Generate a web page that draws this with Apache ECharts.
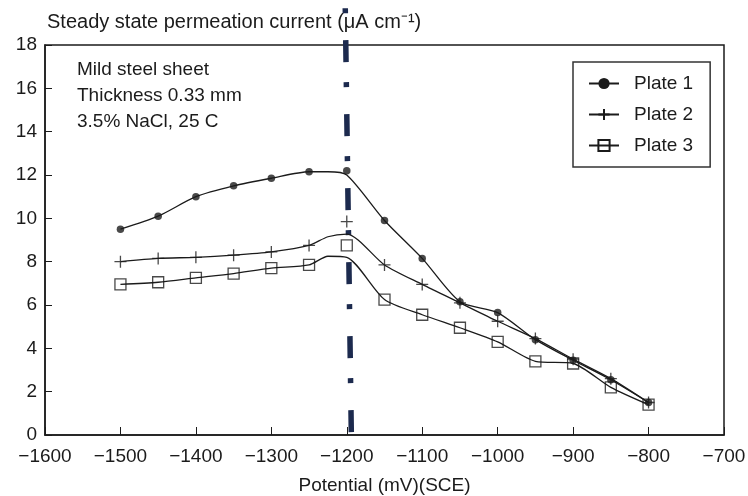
<!DOCTYPE html>
<html>
<head>
<meta charset="utf-8">
<script src="https://cdn.jsdelivr.net/npm/echarts@6/dist/echarts.min.js"></script>
<style>
  html, body { margin: 0; padding: 0; background: #fff; }
  #chart { width: 748px; height: 496px; }
</style>
</head>
<body>
<div id="chart"></div>
<script>
// potentials where the markers sit (mV vs SCE)
const potentials = [-1500, -1450, -1400, -1350, -1300, -1250, -1200, -1150, -1100, -1050, -1000, -950, -900, -850, -800]
const plate1 = [9.5, 10.1, 11.0, 11.5, 11.85, 12.15, 12.2, 9.9, 8.15, 6.15, 5.65, 4.4, 3.45, 2.55, 1.5]
const plate2 = [8.0, 8.15, 8.2, 8.3, 8.45, 8.75, 9.85, 7.85, 6.95, 6.1, 5.25, 4.45, 3.5, 2.6, 1.5]
const plate3 = [6.95, 7.05, 7.25, 7.45, 7.7, 7.85, 8.75, 6.25, 5.55, 4.95, 4.3, 3.4, 3.3, 2.2, 1.4]

// the fitted curves do not go through the -1200 markers, so they get their own points
const curveX = [-1500, -1450, -1400, -1350, -1300, -1250, -1225, -1200, -1150, -1100, -1050, -1000, -950, -900, -850, -800]
const curve1 = [9.5, 10.1, 11.0, 11.5, 11.85, 12.15, 12.15, 12.0, 9.9, 8.15, 6.15, 5.65, 4.4, 3.45, 2.55, 1.5]
const curve2 = [8.0, 8.15, 8.2, 8.3, 8.45, 8.75, 9.15, 9.27, 7.85, 6.95, 6.1, 5.25, 4.45, 3.5, 2.6, 1.5]
const curve3 = [6.95, 7.05, 7.25, 7.45, 7.7, 7.85, 8.25, 8.2, 6.25, 5.55, 4.95, 4.3, 3.4, 3.3, 2.2, 1.4]

// dash-dot guide line (slightly slanted in the original)
const guideX = [-1202, -1194]
const guideY = [19.7, 0.1]

const plateNames = ['Plate 1', 'Plate 2', 'Plate 3']
const yTicks = { min: 0, max: 18, interval: 2 }
const xTicks = { min: -1600, max: -700, interval: 100 }

const ink = '#1b1b1b'
const font = 'Liberation Sans, Arial, sans-serif'
const plusPath = 'path://M0,5L10,5M5,0L5,10'

const symbols = [
  { symbol: 'circle', size: 7.5, itemStyle: { color: ink } },
  { symbol: plusPath, size: 12, itemStyle: { color: 'rgba(0,0,0,0)', borderColor: ink, borderWidth: 1.3 } },
  { symbol: 'rect', size: 11, itemStyle: { color: 'rgba(0,0,0,0)', borderColor: ink, borderWidth: 1.3 } }
]

const pair = (xs, ys) => xs.map((x, i) => [x, ys[i]])
const curves = [curve1, curve2, curve3]
const markers = [plate1, plate2, plate3]

const series = [{
  name: 'guide',
  type: 'line',
  data: pair(guideX, guideY),
  symbol: 'none',
  clip: false,
  silent: true,
  z: 1,
  lineStyle: { color: '#1c2a4e', width: 5.5, type: [5, 27, 22, 20], cap: 'butt' }
}]

plateNames.forEach((name, i) => {
  series.push({
    name,
    type: 'line',
    smooth: 0.25,
    data: pair(curveX, curves[i]),
    showSymbol: false,
    symbol: symbols[i].symbol,
    symbolSize: symbols[i].size,
    itemStyle: symbols[i].itemStyle,
    lineStyle: { color: ink, width: 1.3 },
    z: 3
  })
  series.push({
    name,
    type: 'scatter',
    data: pair(potentials, markers[i]),
    symbol: symbols[i].symbol,
    symbolSize: symbols[i].size,
    symbolKeepAspect: true,
    itemStyle: symbols[i].itemStyle,
    z: 4
  })
})

const chart = echarts.init(document.getElementById('chart'))
chart.setOption({
  animation: false,
  backgroundColor: '#fff',
  textStyle: { fontFamily: font },
  grid: {
    left: 45, right: 24, top: 45, bottom: 61,
    outerBoundsMode: 'none',
    show: true, borderColor: ink, borderWidth: 1.5, backgroundColor: 'transparent'
  },
  legend: {
    data: plateNames,
    orient: 'vertical',
    left: 573, top: 62,
    padding: [12, 17, 12, 15],
    itemWidth: 30, itemHeight: 14, itemGap: 12,
    borderColor: '#333', borderWidth: 1.5,
    textStyle: { fontSize: 19, color: ink, padding: [0, 0, 0, 10] }
  },
  xAxis: {
    type: 'value',
    min: xTicks.min, max: xTicks.max, interval: xTicks.interval,
    name: 'Potential (mV)(SCE)',
    nameLocation: 'middle', nameGap: 41,
    nameTextStyle: { fontSize: 19, color: ink, verticalAlign: 'top' },
    axisLine: { lineStyle: { color: ink, width: 1.5 } },
    axisTick: { inside: true, length: 8, lineStyle: { color: ink } },
    axisLabel: {
      fontSize: 19, color: ink, margin: 12,
      formatter: v => v < 0 ? '\u2212' + Math.abs(v) : String(v)
    },
    splitLine: { show: false }
  },
  yAxis: {
    type: 'value',
    min: yTicks.min, max: yTicks.max, interval: yTicks.interval,
    axisLine: { show: true, lineStyle: { color: ink, width: 1.5 } },
    axisTick: { show: true, inside: true, length: 7, lineStyle: { color: ink } },
    axisLabel: { fontSize: 19, color: ink, margin: 8 },
    splitLine: { show: false }
  },
  graphic: [
    { type: 'text', left: 47, top: 12, style: { text: 'Steady state permeation current (\u03bcA cm\u207b\u00b9)', font: '20px ' + font, fill: ink } },
    { type: 'text', left: 77, top: 60, style: { text: 'Mild steel sheet', font: '19px ' + font, fill: ink } },
    { type: 'text', left: 77, top: 86, style: { text: 'Thickness 0.33 mm', font: '19px ' + font, fill: ink } },
    { type: 'text', left: 77, top: 112, style: { text: '3.5% NaCl, 25 C', font: '19px ' + font, fill: ink } }
  ],
  series
})
</script>
</body>
</html>
